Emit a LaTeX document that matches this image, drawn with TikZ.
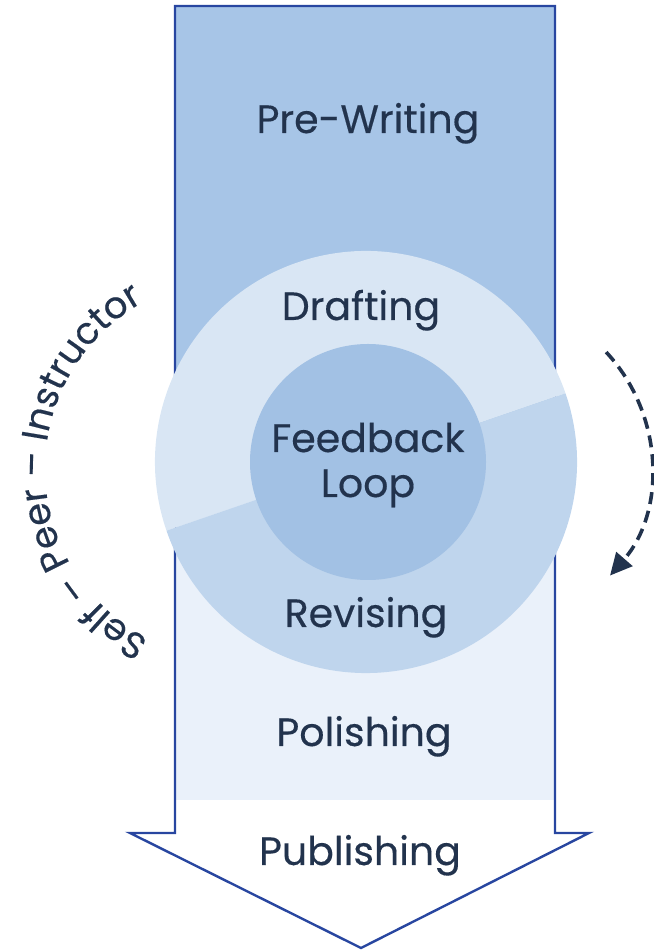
\documentclass[tikz,border=0pt]{standalone}
\usepackage{fontspec}
\setmainfont{Poppins}[FakeBold=0.35]
\usetikzlibrary{arrows.meta}
\usetikzlibrary{decorations.text}
\definecolor{edgeblue}{RGB}{40,70,160}
\definecolor{inkcol}{RGB}{34,51,77}
\definecolor{prewritecol}{RGB}{167,197,231}
\definecolor{polishcol}{RGB}{234,241,250}
\definecolor{ringtopcol}{RGB}{217,230,244}
\definecolor{ringbotcol}{RGB}{191,213,237}
\definecolor{corecol}{RGB}{162,193,228}
\newcommand\stagefont{\fontsize{39.5}{45}\selectfont}
\newcommand\sidefont{\fontsize{37}{42}\selectfont}
\tikzset{
  stage/.style={text=inkcol,anchor=base,align=center,font=\stagefont},
  loop arrow/.style={inkcol,line width=3.6pt,dash pattern=on 12pt off 7pt,
                     -{Triangle[length=22pt,width=21pt]}},
}

\begin{document}
\begin{tikzpicture}[x=1pt,y=1pt]
  \def\xl{175}  % shaft left
  \def\xr{555}  % shaft right
  \def\yt{944}  % shaft top
  \def\yb{117}  % shaft bottom
  \def\R{211}   % ring radius
  \def\r{118}   % core radius
  \def\s{19}    % split angle of ring
  \useasboundingbox (0,0) rectangle (653,950);
  \coordinate (TL) at (\xl,\yt);
  \coordinate (TR) at (\xr,\yt);
  \coordinate (BL) at (\xl,\yb);
  \coordinate (BR) at (\xr,\yb);
  \coordinate (NL) at (130,\yb);
  \coordinate (NR) at (589,\yb);
  \coordinate (TIP) at (361,2);
  \coordinate (C) at (366,488);
  \coordinate (CC) at (368,488);
  \coordinate (SC) at (236,481);
  \coordinate (DC) at (484,484);

  % BANDS
  \fill[prewritecol] (TL) rectangle (\xr,488);
  \fill[polishcol] (\xl,488) rectangle (\xr,150);

  % ARROW
  \draw[edgeblue,line width=2.4pt,line join=miter]
    (TL) -- (TR) -- (BR) -- (NR) -- (TIP) -- (NL) -- (BL) -- cycle;

  % RING
  \fill[ringtopcol] (C) -- ++(\s:\R) arc[start angle=\s,end angle=\s+180,radius=\R] -- cycle;
  \fill[ringbotcol] (C) -- ++(\s+180:\R) arc[start angle=\s+180,end angle=\s+360,radius=\R] -- cycle;
  \fill[corecol] (CC) circle (\r);

  % LABELS
  \node[stage] (prewrite) at (368,817) {Pre-Writing};
  \node[stage] (draft) at (361,630) {Drafting};
  \node[stage] (feedback) at (368,453) {Feedback\\Loop};
  \node[stage] (revise) at (366,323) {Revising};
  \node[stage] (polish) at (364,204) {Polishing};
  \node[stage] (publish) at (360,85) {Publishing};

  % SIDE TEXT
  \path[decorate,decoration={text along path,text align=center,
        text={|\sidefont\color{inkcol}|Self {–} Peer {–} Instructor}}]
    (SC) ++(252:191) arc[start angle=252,end angle=110,radius=191];

  % LOOP ARROW
  \draw[loop arrow] (DC) ++(43:167) arc[start angle=43,end angle=-41,radius=167];
\end{tikzpicture}
\end{document}
